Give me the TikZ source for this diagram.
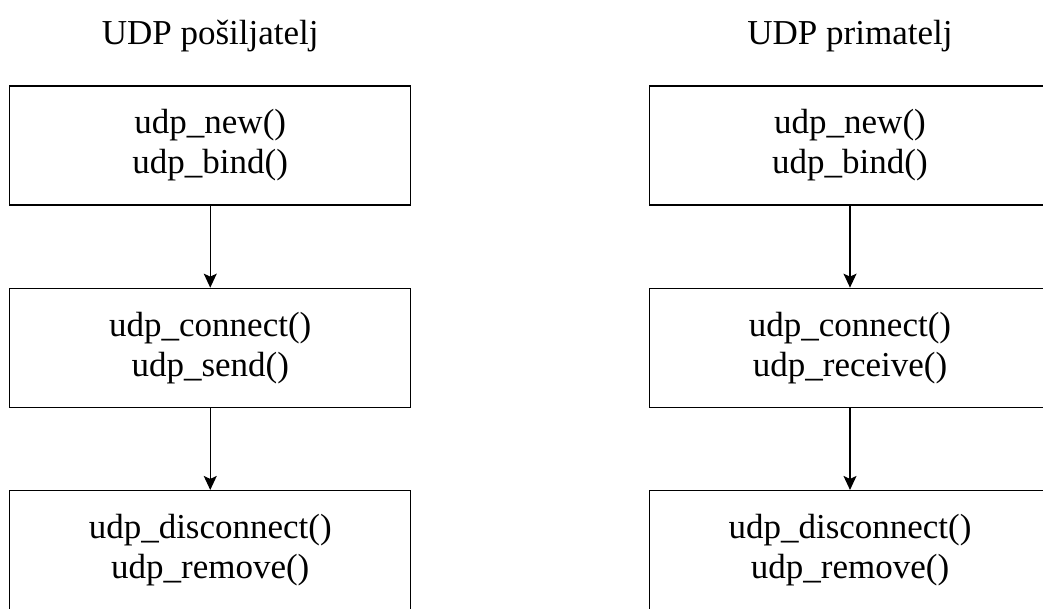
\documentclass[tikz,border=0pt]{standalone}
\usepackage{fontspec}
\setmainfont{Liberation Serif}
\usepackage{xcolor}
\usepackage{tikz}
\usetikzlibrary{arrows.meta, positioning}

\begin{document}
\begin{tikzpicture}[
    x=1pt, y=1pt,
    node distance=82pt,
    callbox/.style={rectangle, draw=black, line width=1.3pt, minimum width=401pt, minimum height=119pt,
                    align=center, font=\fontsize{35}{40}\selectfont},
    title/.style={inner sep=0pt, font=\fontsize{35}{40}\selectfont},
    flow/.style={-{Stealth[length=14pt, width=13pt, inset=3pt]}, line width=1.3pt}
]
    \useasboundingbox (0,0) rectangle (1043,608);

    % Sender
    \node[callbox] (senderinit) at (210.25,462.5) {udp\_new()\\udp\_bind()};
    \node[callbox, below=of senderinit] (sendersend) {udp\_connect()\\udp\_send()};
    \node[callbox, below=of sendersend] (senderclose) {udp\_disconnect()\\udp\_remove()};
    \node[title, above=33pt of senderinit] (sendertitle) {UDP pošiljatelj};

    % Receiver
    \node[callbox] (receiverinit) at (850,462.5) {udp\_new()\\udp\_bind()};
    \node[callbox, below=of receiverinit] (receiverrecv) {udp\_connect()\\udp\_receive()};
    \node[callbox, below=of receiverrecv] (receiverclose) {udp\_disconnect()\\udp\_remove()};
    \node[title, above=33pt of receiverinit] (receivertitle) {UDP primatelj};

    % Arrows
    \draw[flow] (senderinit) -- (sendersend);
    \draw[flow] (sendersend) -- (senderclose);
    \draw[flow] (receiverinit) -- (receiverrecv);
    \draw[flow] (receiverrecv) -- (receiverclose);
\end{tikzpicture}
\end{document}
